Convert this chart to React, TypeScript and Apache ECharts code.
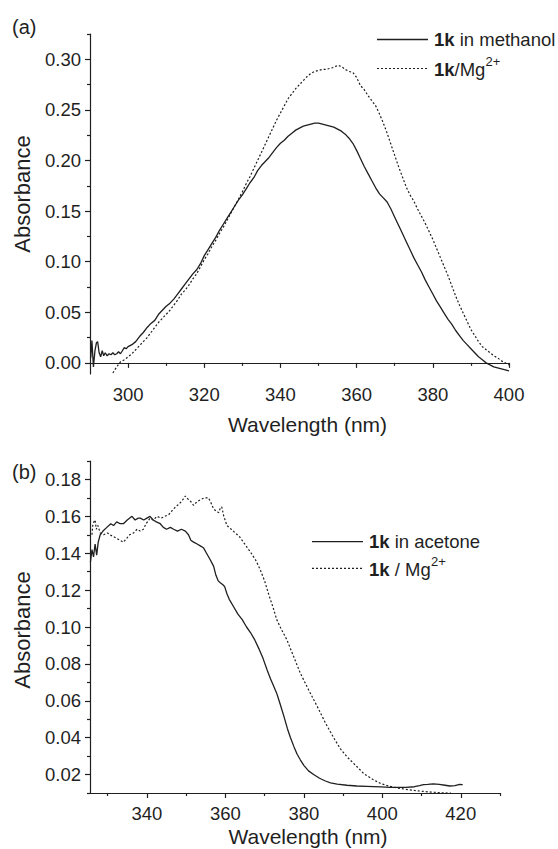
import React, { useEffect, useRef } from "react";
import * as echarts from "echarts";

// ---------- data ----------
const methanolSolid: [number, number][] = [
  [290.2, 0.005], [290.5, 0.022], [290.9, -0.004], [291.3, 0.012], [291.7, 0.020], [292.0, 0.021],
  [292.4, 0.010], [292.8, 0.006], [293.2, 0.012], [293.6, 0.007], [294.0, 0.010], [294.5, 0.007],
  [295.0, 0.009], [295.5, 0.008], [296.0, 0.010], [296.5, 0.008], [297.0, 0.009], [297.5, 0.011],
  [298.0, 0.009], [298.5, 0.012], [299.0, 0.015], [299.5, 0.014], [300, 0.016], [301, 0.018],
  [302, 0.021], [303, 0.026], [304, 0.030], [305, 0.035], [306, 0.039], [307, 0.042], [308, 0.048],
  [309, 0.052], [310, 0.056], [311, 0.059], [312, 0.063], [313, 0.068], [314, 0.073], [315, 0.078],
  [316, 0.083], [317, 0.088], [318, 0.092], [319, 0.098], [320, 0.106], [321, 0.112], [322, 0.118],
  [323, 0.124], [324, 0.131], [325, 0.137], [326, 0.143], [327, 0.149], [328, 0.155], [329, 0.161],
  [330, 0.166], [331, 0.172], [332, 0.178], [333, 0.183], [334, 0.190], [335, 0.195], [336, 0.199],
  [337, 0.203], [338, 0.208], [339, 0.213], [340, 0.217], [341, 0.220], [342, 0.224], [343, 0.227],
  [344, 0.230], [345, 0.232], [346, 0.234], [347, 0.235], [348, 0.236], [349, 0.237], [350, 0.237],
  [351, 0.236], [352, 0.235], [353, 0.234], [354, 0.233], [355, 0.231], [356, 0.229], [357, 0.226],
  [358, 0.222], [359, 0.217], [360, 0.210], [361, 0.202], [362, 0.194], [363, 0.187], [364, 0.180],
  [365, 0.173], [366, 0.167], [367, 0.163], [368, 0.159], [369, 0.152], [370, 0.144], [371, 0.136],
  [372, 0.128], [373, 0.120], [374, 0.112], [375, 0.104], [376, 0.097], [377, 0.090], [378, 0.082],
  [379, 0.075], [380, 0.068], [381, 0.061], [382, 0.055], [383, 0.049], [384, 0.043], [385, 0.038],
  [386, 0.032], [387, 0.027], [388, 0.022], [389, 0.018], [390, 0.014], [391, 0.010], [392, 0.006],
  [393, 0.003], [394, 0.000], [395, -0.002], [396, -0.004], [397, -0.005], [398, -0.006],
  [399, -0.007], [400, -0.008],
];

const methanolMg: [number, number][] = [
  [296, -0.010], [297, -0.004], [298, 0.001], [299, 0.003], [300, 0.006], [301, 0.009], [302, 0.013],
  [303, 0.017], [304, 0.021], [305, 0.025], [306, 0.030], [307, 0.035], [308, 0.040], [309, 0.044],
  [310, 0.048], [311, 0.052], [312, 0.057], [313, 0.062], [314, 0.068], [315, 0.072], [316, 0.077],
  [317, 0.083], [318, 0.088], [319, 0.095], [320, 0.102], [321, 0.108], [322, 0.115], [323, 0.121],
  [324, 0.128], [325, 0.134], [326, 0.141], [327, 0.148], [328, 0.155], [329, 0.162], [330, 0.169],
  [331, 0.177], [332, 0.184], [333, 0.192], [334, 0.200], [335, 0.208], [336, 0.216], [337, 0.224],
  [338, 0.232], [339, 0.240], [340, 0.247], [341, 0.254], [342, 0.261], [343, 0.266], [344, 0.271],
  [345, 0.275], [346, 0.279], [347, 0.283], [348, 0.286], [349, 0.288], [350, 0.289], [351, 0.290],
  [352, 0.290], [353, 0.291], [354, 0.292], [355, 0.294], [356, 0.293], [357, 0.290], [358, 0.288],
  [359, 0.287], [360, 0.282], [361, 0.274], [362, 0.270], [363, 0.264], [364, 0.259], [365, 0.254],
  [366, 0.246], [367, 0.237], [368, 0.227], [369, 0.216], [370, 0.205], [371, 0.194], [372, 0.184],
  [373, 0.174], [374, 0.166], [375, 0.160], [376, 0.152], [377, 0.145], [378, 0.138], [379, 0.130],
  [380, 0.122], [381, 0.113], [382, 0.104], [383, 0.095], [384, 0.086], [385, 0.076], [386, 0.066],
  [387, 0.057], [388, 0.049], [389, 0.041], [390, 0.033], [391, 0.027], [392, 0.021], [393, 0.016],
  [394, 0.013], [395, 0.010], [396, 0.007], [397, 0.005], [398, 0.002], [399, 0.000], [400, -0.002],
];

const acetoneSolid: [number, number][] = [
  [325.6, 0.135], [326.0, 0.142], [326.4, 0.138], [326.8, 0.145], [327.2, 0.139], [327.6, 0.146],
  [328.1, 0.150], [328.8, 0.152], [329.8, 0.154], [330.8, 0.156], [331.5, 0.155], [332.3, 0.157],
  [333.2, 0.156], [334.0, 0.156], [335.0, 0.158], [336.2, 0.160], [337.0, 0.158], [337.8, 0.159],
  [338.3, 0.159], [339.2, 0.158], [340.0, 0.159], [340.8, 0.160], [341.6, 0.158], [342.4, 0.157],
  [343.4, 0.156], [344.2, 0.154], [345.0, 0.153], [346.0, 0.154], [346.8, 0.153], [347.8, 0.152],
  [348.8, 0.153], [349.8, 0.152], [350.6, 0.150], [351.2, 0.147], [351.9, 0.146], [352.8, 0.145],
  [353.6, 0.144], [354.4, 0.143], [355.2, 0.140], [356.0, 0.137], [357.0, 0.133], [357.6, 0.128],
  [358.2, 0.125], [358.7, 0.124], [359.3, 0.123], [359.8, 0.122], [360.4, 0.118], [361.0, 0.115],
  [362.1, 0.111], [363.2, 0.107], [364.3, 0.104], [365.4, 0.100], [366.4, 0.097], [367.5, 0.093],
  [368.6, 0.088], [369.6, 0.083], [370.6, 0.077], [371.5, 0.072], [372.3, 0.068], [373.1, 0.064],
  [374.0, 0.058], [375.0, 0.051], [375.8, 0.045], [376.6, 0.040], [377.5, 0.035], [378.3, 0.031],
  [379.1, 0.028], [380.0, 0.025], [381.2, 0.022], [382.5, 0.020], [384.0, 0.018], [385.5, 0.0165],
  [386.8, 0.0155], [388.5, 0.0148], [391.0, 0.0142], [393.5, 0.0138], [396.0, 0.0136], [399.6, 0.0133],
  [402.0, 0.0131], [403.9, 0.013], [406.0, 0.0131], [408.2, 0.0134], [409.5, 0.014], [410.5, 0.0145],
  [411.6, 0.0147], [413.0, 0.015], [414.5, 0.0147], [416.0, 0.0142], [417.2, 0.0138], [418.5, 0.014],
  [419.5, 0.0146], [420.5, 0.0145],
];

const acetoneMg: [number, number][] = [
  [326.0, 0.150], [326.2, 0.155], [326.5, 0.157], [326.8, 0.158], [327.1, 0.153], [327.5, 0.155],
  [328.1, 0.151], [329.0, 0.150], [330.0, 0.151], [330.6, 0.150], [331.5, 0.149], [332.3, 0.148],
  [333.2, 0.147], [334.0, 0.146], [334.8, 0.148], [335.6, 0.150], [336.6, 0.151], [337.5, 0.153],
  [338.3, 0.152], [339.1, 0.153], [339.8, 0.156], [340.8, 0.159], [341.6, 0.158], [342.6, 0.160],
  [343.6, 0.159], [344.6, 0.160], [345.6, 0.161], [346.8, 0.164], [347.8, 0.166], [348.8, 0.168],
  [349.8, 0.171], [350.6, 0.169], [351.2, 0.168], [351.9, 0.166], [352.8, 0.168], [353.6, 0.169],
  [354.6, 0.170], [355.7, 0.170], [356.4, 0.167], [357.0, 0.164], [357.6, 0.163], [358.3, 0.162],
  [358.8, 0.165], [359.1, 0.165], [359.6, 0.160], [360.4, 0.155], [361.5, 0.153], [362.5, 0.151],
  [363.6, 0.149], [364.6, 0.146], [365.6, 0.143], [366.6, 0.140], [367.8, 0.136], [368.9, 0.131],
  [370.0, 0.125], [371.0, 0.118], [372.1, 0.111], [373.1, 0.104], [374.2, 0.099], [375.7, 0.093],
  [377.4, 0.084], [379.1, 0.075], [381.2, 0.066], [383.4, 0.057], [385.5, 0.048], [387.6, 0.040],
  [389.3, 0.034], [391.0, 0.0296], [393.2, 0.025], [395.3, 0.0205], [397.5, 0.0175], [399.6, 0.0151],
  [401.8, 0.0137], [403.9, 0.0127], [406.0, 0.012], [408.2, 0.0114], [410.3, 0.0109], [412.4, 0.0105],
  [414.5, 0.0102], [416.7, 0.010], [417.5, 0.0099],
];

// tick values
const topXLabels = [300, 320, 340, 360, 380, 400];
const topXMinor = [310, 330, 350, 370, 390];
const topYLabels = [0, 0.05, 0.1, 0.15, 0.2, 0.25, 0.3];
const topYMinor = [0.025, 0.075, 0.125, 0.175, 0.225, 0.275, 0.325];
const botXLabels = [340, 360, 380, 400, 420];
const botXMinor = [330, 350, 370, 390, 410, 430];
const botYLabels = [0.02, 0.04, 0.06, 0.08, 0.1, 0.12, 0.14, 0.16, 0.18];
const botYMinor = [0.01, 0.03, 0.05, 0.07, 0.09, 0.11, 0.13, 0.15, 0.17, 0.19];

const FONT = "'Liberation Sans', Arial, Helvetica, sans-serif";
const INK = "#1f1f1f";

function majorAxis(kind: "x" | "y", grid: number, min: number, max: number, labels: number[], digits: number) {
  return {
    type: "value",
    gridIndex: grid,
    min,
    max,
    position: kind === "x" ? "bottom" : "left",
    axisLine: { show: true, lineStyle: { color: INK, width: 1.2 } },
    axisTick: { show: true, inside: false, length: 5, customValues: labels, lineStyle: { color: INK, width: 1.2 } },
    axisLabel: {
      show: true,
      customValues: labels,
      margin: kind === "x" ? 11 : 9,
      color: INK,
      fontSize: 18.5,
      fontFamily: FONT,
      formatter: (v: number) => v.toFixed(digits),
    },
    splitLine: { show: false },
  };
}

function minorAxis(kind: "x" | "y", grid: number, min: number, max: number, ticks: number[]) {
  return {
    type: "value",
    gridIndex: grid,
    min,
    max,
    position: kind === "x" ? "bottom" : "left",
    axisLine: { show: false },
    axisTick: { show: true, inside: false, length: 3, customValues: ticks, lineStyle: { color: INK, width: 1.2 } },
    axisLabel: { show: false },
    splitLine: { show: false },
  };
}

function txt(x: number, y: number, text: string, fontSize: number, extra: any = {}) {
  return {
    type: "text",
    x,
    y,
    silent: true,
    ...extra,
    style: {
      text,
      fontSize,
      fontFamily: FONT,
      fill: INK,
      verticalAlign: "middle",
      align: "left",
      ...(extra.style || {}),
    },
  };
}

const richBold = { b: { fontWeight: "bold", fontSize: 18.5, fontFamily: FONT, fill: INK } };

export default function App() {
  const ref = useRef<HTMLDivElement>(null);
  useEffect(() => {
    if (!ref.current) return;
    const chart = echarts.init(ref.current, null, { renderer: "svg" });
    const solid = { color: INK, width: 1.3, type: "solid" };
    const dashed = { color: INK, width: 1.2, type: [2, 2] };
    chart.setOption({
      animation: false,
      backgroundColor: "#ffffff",
      grid: [
        { left: 90, top: 34, width: 419, height: 340 },
        { left: 90, top: 461, width: 410, height: 332 },
      ],
      xAxis: [
        majorAxis("x", 0, 290, 400, topXLabels, 0),
        minorAxis("x", 0, 290, 400, topXMinor),
        majorAxis("x", 1, 325.5, 430, botXLabels, 0),
        minorAxis("x", 1, 325.5, 430, botXMinor),
      ],
      yAxis: [
        majorAxis("y", 0, -0.011, 0.325, topYLabels, 2),
        minorAxis("y", 0, -0.011, 0.325, topYMinor),
        majorAxis("y", 1, 0.01, 0.19, botYLabels, 2),
        minorAxis("y", 1, 0.01, 0.19, botYMinor),
      ],
      series: [
        { type: "line", name: "1k in methanol", xAxisIndex: 0, yAxisIndex: 0, data: methanolSolid, showSymbol: false, symbol: "none", lineStyle: solid },
        { type: "line", name: "1k/Mg2+", xAxisIndex: 0, yAxisIndex: 0, data: methanolMg, showSymbol: false, symbol: "none", lineStyle: dashed },
        { type: "line", name: "1k in acetone", xAxisIndex: 2, yAxisIndex: 2, data: acetoneSolid, showSymbol: false, symbol: "none", lineStyle: solid },
        { type: "line", name: "1k / Mg2+", xAxisIndex: 2, yAxisIndex: 2, data: acetoneMg, showSymbol: false, symbol: "none", lineStyle: dashed },
      ],
      graphic: [
        txt(12, 26.5, "(a)", 20),
        txt(12, 471.5, "(b)", 20),
        txt(22.5, 194, "Absorbance", 22, { rotation: Math.PI / 2, style: { align: "center" } }),
        txt(22.5, 630, "Absorbance", 22, { rotation: Math.PI / 2, style: { align: "center" } }),
        txt(307.5, 424, "Wavelength (nm)", 21, { style: { align: "center" } }),
        txt(308, 836, "Wavelength (nm)", 21, { style: { align: "center" } }),
        // legend (a)
        { type: "line", silent: true, shape: { x1: 377, y1: 39.5, x2: 428, y2: 39.5 }, style: { stroke: INK, lineWidth: 1.3 } },
        { type: "line", silent: true, shape: { x1: 377, y1: 68.5, x2: 428, y2: 68.5 }, style: { stroke: INK, lineWidth: 1.2, lineDash: [2, 2] } },
        txt(434, 39.5, "{b|1k} in methanol", 18.5, { style: { rich: richBold } }),
        txt(434, 69, "{b|1k}/Mg", 18.5, { style: { rich: richBold } }),
        txt(485.5, 61, "2+", 13),
        // legend (b)
        { type: "line", silent: true, shape: { x1: 312, y1: 541.7, x2: 363, y2: 541.7 }, style: { stroke: INK, lineWidth: 1.3 } },
        { type: "line", silent: true, shape: { x1: 312, y1: 568.3, x2: 363, y2: 568.3 }, style: { stroke: INK, lineWidth: 1.2, lineDash: [2, 2] } },
        txt(369, 541.7, "{b|1k} in acetone", 18.5, { style: { rich: richBold } }),
        txt(369, 569, "{b|1k} / Mg", 18.5, { style: { rich: richBold } }),
        txt(431, 561, "2+", 13),
      ],
    });
    return () => chart.dispose();
  }, []);
  return (
    <div
      ref={ref}
      style={{ position: "absolute", left: 0, top: 0, width: 558, height: 849, background: "#fff" }}
    />
  );
}
